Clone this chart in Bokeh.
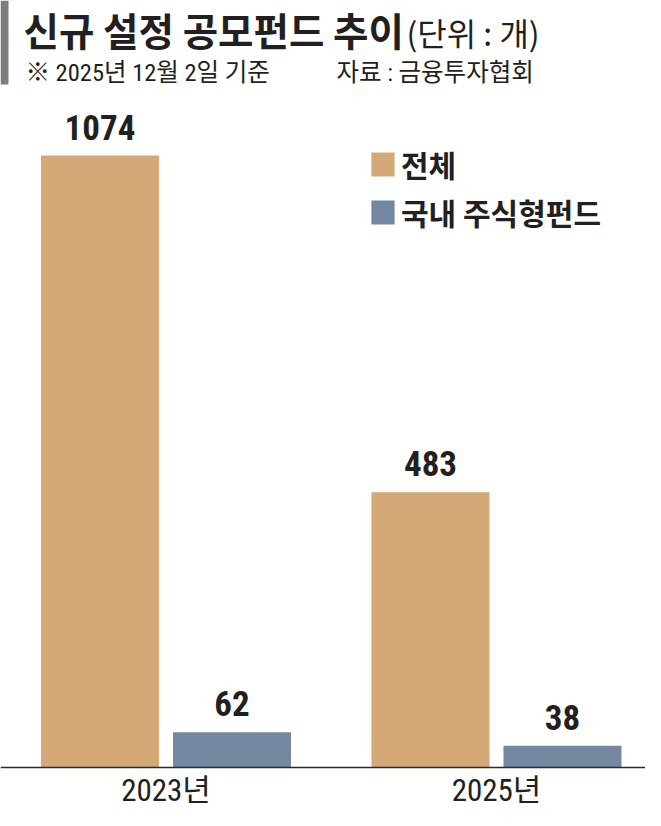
from bokeh.plotting import figure
from bokeh.models import (ColumnDataSource, LabelSet, Span, BoxAnnotation,
                          Legend, LegendItem, Range1d)
from bokeh.embed import file_html
from bokeh.resources import INLINE
from bokeh.core.properties import value
import numpy as np

# ---------------- data ----------------
years = ["2023년", "2025년"]
series_names = ["전체", "국내 주식형펀드"]
total = [1074, 483]
domestic_equity = [62, 38]

title_main = "신규 설정 공모펀드 추이"
title_unit = "(단위 : 개)"
note_text = "※ 2025년 12월 2일 기준"
source_text = "자료 : 금융투자협회"

# ---------------- layout (figure pixels) ----------------
W, H = 645, 810
base_px = 767          # baseline, px from top
top_px_max = 155       # top of the tallest bar, px from top
px_per_unit = (base_px - top_px_max) / max(total)
first_group_px = 165.5
group_step = 330.5
bar_w_px = 118
offset_px = 66

x_start = -first_group_px / group_step
x_end = (W - first_group_px) / group_step
y_start = -(H - base_px) / px_per_unit
y_end = base_px / px_per_unit


def dx(px):
    return px / group_step + x_start


def dy(py):
    return (base_px - py) / px_per_unit


TAN = "#D5A878"
BLUE = "#7387A1"
INK = "#231F20"
KR = "Noto Sans CJK KR"
NUM = "Roboto Condensed, Noto Sans CJK KR"

idx = np.arange(len(years))
off = offset_px / group_step
bw = bar_w_px / group_step

src_total = ColumnDataSource(dict(x=idx - off, top=total,
                                  label=[str(v) for v in total]))
src_dom = ColumnDataSource(dict(x=idx + off, top=domestic_equity,
                                label=[str(v) for v in domestic_equity]))
src_years = ColumnDataSource(dict(x=idx, y=[0] * len(years), label=years))

p = figure(width=W, height=H, output_backend="svg", toolbar_location=None,
           x_range=Range1d(x_start, x_end), y_range=Range1d(y_start, y_end),
           x_axis_type=None, y_axis_type=None, min_border=0,
           background_fill_color="white", border_fill_color="white")
p.outline_line_color = None
p.xgrid.visible = False
p.ygrid.visible = False

r1 = p.vbar(x="x", top="top", width=bw, bottom=0, source=src_total,
            fill_color=TAN, line_color=None)
r2 = p.vbar(x="x", top="top", width=bw, bottom=0, source=src_dom,
            fill_color=BLUE, line_color=None)

p.add_layout(Span(location=0, dimension="width", line_color="#2b2b2b",
                  line_width=1.5))

for src in (src_total, src_dom):
    p.add_layout(LabelSet(x="x", y="top", text="label", source=src,
                          y_offset=16, text_align="center",
                          text_baseline="alphabetic",
                          text_font=value(NUM), text_font_style="bold",
                          text_font_size="35px", text_color=INK))

p.add_layout(LabelSet(x="x", y="y", text="label", source=src_years,
                      y_offset=-33, text_align="center",
                      text_baseline="alphabetic",
                      text_font=value(NUM), text_font_size="31px",
                      text_color=INK))


def header_text(px_x, px_y, text, font, size, style="normal"):
    src = ColumnDataSource(dict(x=[dx(px_x)], y=[dy(px_y)], t=[text]))
    p.add_layout(LabelSet(x="x", y="y", text="t", source=src,
                          text_align="left", text_baseline="alphabetic",
                          text_font=value(font), text_font_size=size,
                          text_font_style=style, text_color=INK))


# header
p.add_layout(BoxAnnotation(left=dx(0), right=dx(8), top=dy(0), bottom=dy(84),
                           fill_color="#7d7d7d", fill_alpha=1.0,
                           line_color=None))
header_text(23, 45, title_main, KR, "38.5px", "bold")
header_text(406, 45, title_unit, KR, "32px")
header_text(25, 80, note_text, NUM, "24.5px")
header_text(336, 80, source_text, NUM, "24.5px")

legend = Legend(items=[LegendItem(label=series_names[0], renderers=[r1]),
                       LegendItem(label=series_names[1], renderers=[r2])],
                location=(368, 576), orientation="vertical",
                glyph_width=29, glyph_height=30, label_standoff=4,
                spacing=4, padding=0, margin=0,
                border_line_color=None, background_fill_alpha=0,
                label_text_font=KR, label_text_font_style="bold",
                label_text_font_size="30px", label_text_color=INK)
p.add_layout(legend)

open("out.html", "w").write(file_html(p, INLINE))
